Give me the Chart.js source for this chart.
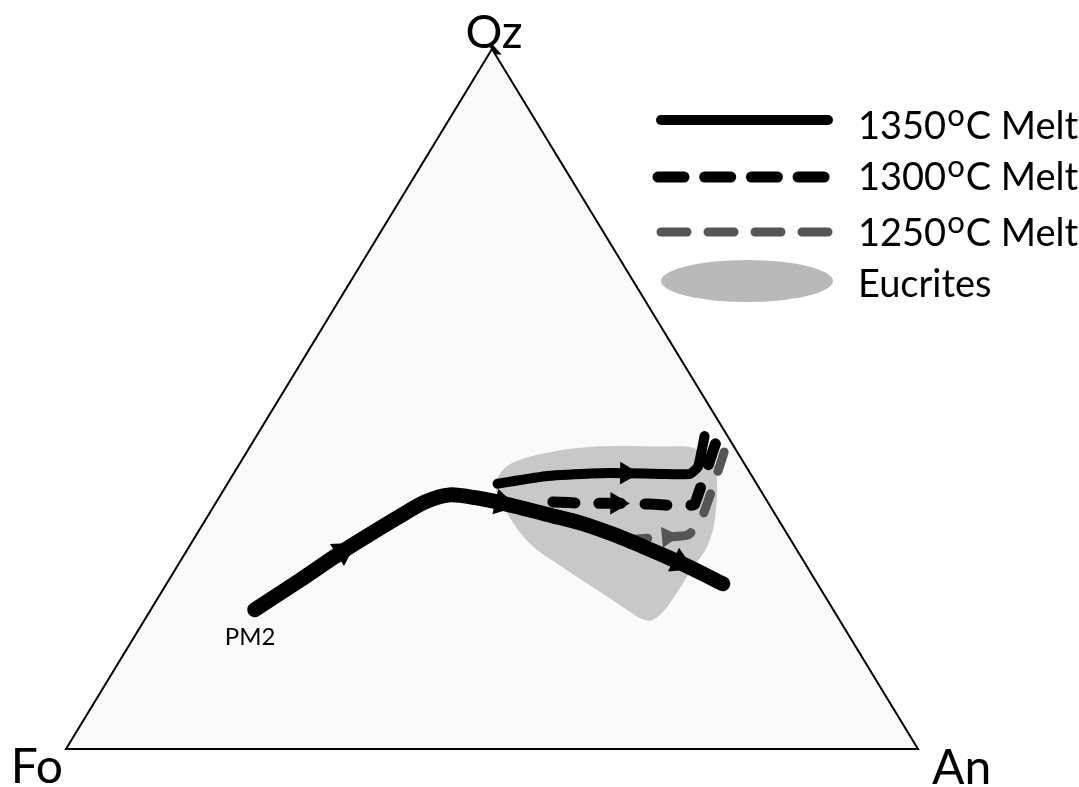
<!DOCTYPE html>
<html>
<head>
<meta charset="utf-8">
<title>Fo–An–Qz melt paths</title>
<script src="https://cdn.jsdelivr.net/npm/chart.js@4/dist/chart.umd.min.js"></script>
<style>
  html, body { margin: 0; padding: 0; background: #ffffff; overflow: hidden; }
  #wrap { position: absolute; left: 0; top: 0; width: 1079px; height: 787px; }
</style>
</head>
<body>
<div id="wrap"><canvas id="tern" width="1079" height="787"></canvas></div>
<script>
// Compositions are [Qz, Fo, An] in percent.
const vertexLabels = ['Qz', 'Fo', 'An'];
const triangleCorners = [[100, 0, 0], [0, 100, 0], [0, 0, 100], [100, 0, 0]];

const startLabel = 'PM2';

// 1350 °C melt, from PM2 across the field
const melt1350Main = [
  [19.9, 67.9, 12.2], [24.1, 60.5, 15.4], [28.3, 53.3, 18.4], [33.3, 44.1, 22.6],
  [35.3, 40.2, 24.5], [36.3, 36.8, 26.9], [35.9, 34.0, 30.1], [35.1, 31.2, 33.7],
  [33.3, 26.2, 40.5], [32.3, 23.5, 44.2], [30.7, 20.5, 48.8], [28.7, 17.5, 53.8],
  [26.6, 14.6, 58.8], [23.6, 11.1, 65.3]
];
const arrows1350Main = [2, 7, 12];

// 1350 °C melt, upper branch
const melt1350Upper = [
  [37.9, 30.4, 31.7], [39.0, 24.0, 37.0], [39.4, 17.6, 43.0], [39.4, 14.5, 46.1],
  [39.3, 10.6, 50.1], [39.3, 7.1, 53.6], [40.4, 5.6, 54.0], [44.7, 2.7, 52.6]
];
const arrows1350Upper = [3];

// 1300 °C melt
const melt1300 = [
  [35.3, 25.2, 39.5], [35.1, 21.6, 43.3], [35.1, 17.8, 47.1], [35.0, 14.0, 51.0],
  [34.7, 10.6, 54.7], [34.9, 8.8, 56.3], [44.6, 1.2, 54.2]
];
const arrows1300 = [2];

// 1250 °C melt
const melt1250 = [
  [29.9, 19.1, 51.0], [30.1, 16.7, 53.2], [30.3, 14.2, 55.5], [30.6, 11.7, 57.7],
  [32.4, 9.4, 58.2], [37.0, 5.7, 57.3], [43.0, 1.1, 55.9]
];
const arrows1250 = [2];

// Eucrite compositional field (closed outline)
const eucriteField = [
  [37.9, 30.9, 31.2], [40.6, 27.7, 31.7], [42.3, 22.5, 35.2], [43.2, 16.2, 40.6],
  [43.2, 8.4, 48.4], [43.0, 4.9, 52.1], [41.3, 3.5, 55.2], [38.4, 4.4, 57.2],
  [32.7, 7.5, 59.8], [28.9, 10.3, 60.8], [26.0, 13.4, 60.6], [20.3, 19.3, 60.4],
  [18.4, 22.0, 59.6], [18.6, 23.2, 58.2], [19.6, 24.0, 56.4], [22.7, 26.3, 51.0],
  [25.9, 28.7, 45.4], [29.4, 30.9, 39.7], [33.7, 31.4, 34.9], [37.2, 31.0, 31.8],
  [37.9, 30.9, 31.2]
];

const legendTemps = ['1350', '1300', '1250'];
const legendMeltWord = 'C Melt';
const legendFieldName = 'Eucrites';

// ternary -> cartesian (Fo at origin, An at x = 100, Qz on top)
function toXY(c) {
  const qz = c[0], an = c[2];
  return { x: an + qz / 2, y: qz };
}

function pathDataset(path, opts) {
  return Object.assign({
    type: 'scatter',
    data: path.map(toXY),
    showLine: true,
    pointRadius: 0,
    pointHoverRadius: 0,
    fill: false,
    clip: false,
    borderCapStyle: 'round',
    borderJoinStyle: 'round',
    tension: 0.2
  }, opts);
}

function arrowDataset(path, idx, color, r, order) {
  return {
    type: 'scatter',
    data: idx.map(i => toXY(path[i])),
    showLine: false,
    pointStyle: 'triangle',
    pointRadius: r,
    pointHoverRadius: r,
    backgroundColor: color,
    borderColor: color,
    borderWidth: 0,
    clip: false,
    order: order,
    pointRotation: (ctx) => {
      const i = idx[ctx.dataIndex];
      if (i === undefined || !ctx.chart.scales.x) return 0;
      const a = toXY(path[Math.max(i - 1, 0)]);
      const b = toXY(path[Math.min(i + 1, path.length - 1)]);
      const sx = ctx.chart.scales.x, sy = ctx.chart.scales.y;
      const dx = sx.getPixelForValue(b.x) - sx.getPixelForValue(a.x);
      const dy = sy.getPixelForValue(b.y) - sy.getPixelForValue(a.y);
      return Math.atan2(dy, dx) * 180 / Math.PI + 90;
    }
  };
}

const BLACK = '#000000';
const GREY = '#555555';
const FIELD = '#c8c8c8';

const datasets = [
  pathDataset(triangleCorners, { borderColor: '#000000', borderWidth: 2, backgroundColor: '#fafafa',
    fill: 'shape', tension: 0, borderCapStyle: 'butt', borderJoinStyle: 'miter', order: 20 }),
  pathDataset(eucriteField, { borderColor: 'rgba(0,0,0,0)', borderWidth: 0, backgroundColor: FIELD,
    fill: 'shape', tension: 0.35, order: 19 }),
  pathDataset(melt1250, { borderColor: GREY, borderWidth: 9, borderDash: [20, 24], order: 18 }),
  pathDataset(melt1300, { borderColor: BLACK, borderWidth: 11, borderDash: [22, 24], tension: 0.05, order: 17 }),
  pathDataset(melt1350Upper, { borderColor: BLACK, borderWidth: 10, tension: 0.15, order: 16 }),
  pathDataset(melt1350Main, { borderColor: BLACK, borderWidth: 15, tension: 0.25, order: 15 }),
  arrowDataset(melt1250, arrows1250, GREY, 12, 5),
  arrowDataset(melt1300, arrows1300, BLACK, 13, 4),
  arrowDataset(melt1350Upper, arrows1350Upper, BLACK, 13, 3),
  arrowDataset(melt1350Main, arrows1350Main, BLACK, 15, 2)
];

const FONT = 'Lato, "Open Sans", sans-serif';

const annotations = {
  id: 'annotations',
  afterDraw(chart) {
    const ctx = chart.ctx;
    const sx = chart.scales.x, sy = chart.scales.y;
    const px = c => { const p = toXY(c); return [sx.getPixelForValue(p.x), sy.getPixelForValue(p.y)]; };
    ctx.save();
    ctx.fillStyle = '#000000';
    ctx.textBaseline = 'alphabetic';

    // corner labels
    ctx.font = '46px ' + FONT;
    const qz = px(triangleCorners[0]);
    ctx.textAlign = 'center';
    ctx.fillText(vertexLabels[0], qz[0] + 2, qz[1] - 1);
    ctx.font = '48px ' + FONT;
    const fo = px(triangleCorners[1]);
    ctx.textAlign = 'right';
    ctx.fillText(vertexLabels[1], fo[0] - 3, fo[1] + 34);
    const an = px(triangleCorners[2]);
    ctx.textAlign = 'left';
    ctx.fillText(vertexLabels[2], an[0] + 14, an[1] + 35);

    // starting composition
    ctx.font = '24px ' + FONT;
    const s = px(melt1350Main[0]);
    ctx.fillText(startLabel, s[0] - 30, s[1] + 35);

    // legend
    const ds = chart.data.datasets;
    const lx0 = 662, lx1 = 828, tx = 858;
    const rows = [
      { y: 120, base: 139, set: ds[5], width: 10, dash: [] },
      { y: 177, base: 190, set: ds[3], width: 11, dash: [26, 20.7] },
      { y: 232, base: 246, set: ds[2], width: 9, dash: [26, 21] }
    ];
    ctx.lineCap = 'round';
    rows.forEach((r, k) => {
      ctx.beginPath();
      ctx.setLineDash(r.dash);
      ctx.lineWidth = r.width;
      ctx.strokeStyle = r.set.borderColor;
      const x0 = k === 1 ? lx0 - 4 : lx0 - 1;
      const x1 = k === 1 ? lx1 - 3 : lx1;
      ctx.moveTo(x0, r.y);
      ctx.lineTo(x1, r.y);
      ctx.stroke();
      ctx.setLineDash([]);

      ctx.fillStyle = '#000000';
      ctx.font = '38px ' + FONT;
      ctx.textAlign = 'left';
      const t = legendTemps[k];
      ctx.fillText(t, tx, r.base);
      let w = ctx.measureText(t).width + 1;
      ctx.font = '31px ' + FONT;
      ctx.fillText('o', tx + w, r.base - 13);
      w += ctx.measureText('o').width + 1;
      ctx.font = '38px ' + FONT;
      ctx.fillText(legendMeltWord, tx + w, r.base);
    });

    // field swatch
    ctx.beginPath();
    ctx.fillStyle = '#b9b9b9';
    ctx.ellipse(747, 281, 86, 21, 0, 0, Math.PI * 2);
    ctx.fill();
    ctx.fillStyle = '#000000';
    ctx.font = '38px ' + FONT;
    ctx.fillText(legendFieldName, tx, 297);

    ctx.restore();
  }
};

function build() {
  new Chart(document.getElementById('tern'), {
    type: 'scatter',
    data: { datasets },
    options: {
      responsive: false,
      animation: false,
      events: [],
      layout: { padding: { left: 66, right: 161, top: 49, bottom: 38 } },
      scales: {
        x: { type: 'linear', min: 0, max: 100, display: false },
        y: { type: 'linear', min: 0, max: 100, display: false }
      },
      plugins: {
        legend: { display: false },
        tooltip: { enabled: false }
      }
    },
    plugins: [annotations]
  });
}

Promise.all([
  document.fonts.load('38px Lato'),
  document.fonts.load('48px Lato')
]).then(build, build);
</script>
</body>
</html>
